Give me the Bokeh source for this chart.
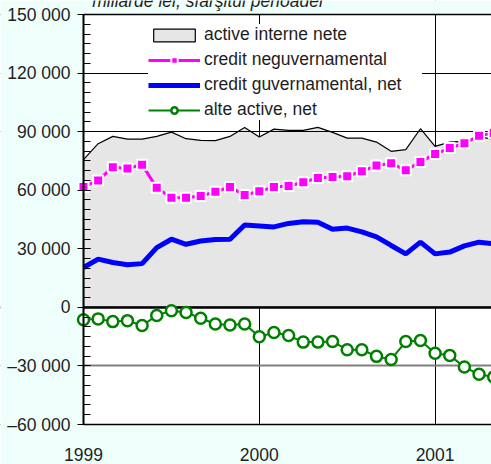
from bokeh.plotting import figure
from bokeh.models import Range1d, FixedTicker, Label, BoxAnnotation
from bokeh.embed import file_html
from bokeh.resources import INLINE

# ---- data (monthly, Jan 1999 onward) ----
months = list(range(29))
active_interne_nete = [75700, 83840, 87570, 86190, 86190, 87570, 89760, 86390, 85530, 85370, 87570, 92160,
                       87210, 91290, 90630, 90630, 92160, 89610, 86700, 86700, 84660, 79920, 80780, 91490,
                       82470, 84660, 85020, 87240, 86190]
credit_neguvernamental = [61700, 65000, 71800, 71100, 73100, 61200, 56100, 56100, 57000, 59200, 61600, 57500,
                          59500, 61600, 62100, 64100, 66300, 66800, 67200, 69700, 72600, 73800, 70200, 74500,
                          78500, 81600, 84000, 87900, 89300]
credit_guvernamental = [20400, 24700, 23000, 21800, 22400, 30600, 34900, 32300, 34000, 34700, 34900, 42200,
                        41700, 41200, 43000, 43900, 43600, 40000, 40600, 38700, 36100, 31700, 27400, 33400,
                        27400, 28300, 31500, 33400, 32500]
alte_active = [-6300, -5900, -7300, -6800, -9300, -4200, -1700, -2600, -5600, -8500, -9000, -8500,
               -15100, -12900, -14400, -17800, -17800, -17500, -21700, -21700, -25100, -26700, -17500, -17000,
               -23500, -24600, -30600, -34300, -35700]

year_ticks = [0, 12, 24]
year_labels = ["1999", "2000", "2001"]
y_ticks = [-60000, -30000, 0, 30000, 60000, 90000, 120000, 150000]
y_labels = ["\u201360 000", "\u201330 000", "0", "30 000", "60 000", "90 000", "120 000", "150 000"]
y_minor = list(range(-60000, 150001, 5000))
grid_black = [90000, 120000]
grid_grey = [-30000]
year_lines = [12, 24]
title_text = "miliarde lei, sf\u00e2r\u015fitul perioadei"

FONT = "Liberation Sans"
TXT = "#1e1e1e"
BG = "#eefffb"
FS = "17.5px"

# plot body: 408 x 410 px starting at (83, 14); the frame covers the whole canvas
W, H = 491, 464
BODY_L, BODY_T, BODY_W, BODY_H = 83, 14, 408, 410
x_hi = 27.85
x_lo = 0
y_lo, y_hi = min(y_ticks), max(y_ticks)
upp_y = (y_hi - y_lo) / BODY_H
upp_x = (x_hi - x_lo) / BODY_W

p = figure(width=W, height=H, output_backend="svg", toolbar_location=None,
           x_range=Range1d(x_lo - BODY_L * upp_x, x_hi),
           y_range=Range1d(y_lo - (H - BODY_T - BODY_H) * upp_y, y_hi + BODY_T * upp_y),
           min_border_left=0, min_border_right=0, min_border_top=0, min_border_bottom=0,
           border_fill_color=BG, background_fill_color="white", outline_line_color=None)
p.xgrid.visible = False
p.ygrid.visible = False

# bands above / below the plot body keep the page colour (under the glyphs)
p.add_layout(BoxAnnotation(bottom=y_hi, fill_color=BG, fill_alpha=1, line_color=None, level="underlay"))
p.add_layout(BoxAnnotation(top=y_lo, fill_color=BG, fill_alpha=1, line_color=None, level="underlay"))
# band left of the axis (over the horizontal lines)
p.add_layout(BoxAnnotation(right=x_lo, fill_color=BG, fill_alpha=1, line_color=None))

# vertical year lines (lowest)
vs = p.vspan(x=year_lines, line_color="black", line_width=1)
vs.level = "image"

# area: active interne nete
xs_area = months + [months[-1], months[0]]
ys_area = active_interne_nete + [0, 0]
p.patch(xs_area, ys_area, fill_color="#e6e6e6", line_color="black", line_width=1.2,
        legend_label="active interne nete")

# horizontal lines
p.hspan(y=grid_black, line_color="black", line_width=1)
p.hspan(y=grid_grey, line_color="#808080", line_width=2)
p.hspan(y=[0], line_color="black", line_width=2.5)
p.hspan(y=[y_hi, y_lo], line_color="black", line_width=1.5)

# credit neguvernamental
p.line(months, credit_neguvernamental, line_color="#ff00ff", line_width=3,
       legend_label="credit neguvernamental")
sq = p.scatter(months, credit_neguvernamental, marker="square", size=10, fill_color="#ff00ff",
               line_color="white", line_width=2, legend_label="credit neguvernamental")

# credit guvernamental
p.line(months, credit_guvernamental, line_color="#0000ff", line_width=5,
       legend_label="credit guvernamental, net")

# alte active
p.line(months, alte_active, line_color="#008000", line_width=2, legend_label="alte active, net")
ci = p.scatter(months, alte_active, marker="circle", size=11, fill_color="white",
               line_color="#008000", line_width=2.5, legend_label="alte active, net")
sq.level = "overlay"
ci.level = "overlay"

# y axis pinned at the start of the period
yax = p.yaxis[0]
yax.fixed_location = x_lo
yax.level = "overlay"
yax.bounds = (y_lo, y_hi)
yax.ticker = FixedTicker(ticks=y_ticks, minor_ticks=y_minor)
yax.major_label_overrides = {t: l for t, l in zip(y_ticks, y_labels)}
yax.axis_line_color = "black"
yax.axis_line_width = 2
yax.major_tick_line_color = "black"
yax.major_tick_out = 6
yax.major_tick_in = 7
yax.minor_tick_line_color = "black"
yax.minor_tick_in = 7
yax.minor_tick_out = 0
yax.major_label_standoff = 7
yax.major_label_text_font = FONT
yax.major_label_text_font_size = FS
yax.major_label_text_color = TXT

# x axis pinned to the bottom of the value range
xax = p.xaxis[0]
xax.fixed_location = y_lo
xax.level = "overlay"
xax.ticker = FixedTicker(ticks=year_ticks)
xax.major_label_overrides = {t: l for t, l in zip(year_ticks, year_labels)}
xax.axis_line_color = None
xax.major_tick_line_color = None
xax.minor_tick_line_color = None
xax.major_tick_out = 0
xax.major_tick_in = 0
xax.minor_tick_out = 0
xax.minor_tick_in = 0
xax.major_label_standoff = 23
xax.major_label_text_font = FONT
xax.major_label_text_font_size = FS
xax.major_label_text_color = TXT

# legend
lg = p.legend[0]
lg.location = (148, 344)
lg.padding = 4
lg.margin = 0
lg.spacing = 4
lg.glyph_width = 52
lg.glyph_height = 16
lg.label_height = 21
lg.label_width = 218
lg.label_standoff = 4
lg.label_text_font = FONT
lg.label_text_font_size = FS
lg.label_text_color = TXT
lg.background_fill_color = "white"
lg.background_fill_alpha = 1
lg.border_line_color = None

# heading, cut off at the top edge as in the original
p.add_layout(Label(x=0.6, y=y_hi, y_offset=14, text=title_text, text_font=FONT, text_font_size=FS,
                   text_font_style="italic", text_color=TXT, text_baseline="alphabetic"))

open("out.html", "w").write(file_html(p, INLINE))
